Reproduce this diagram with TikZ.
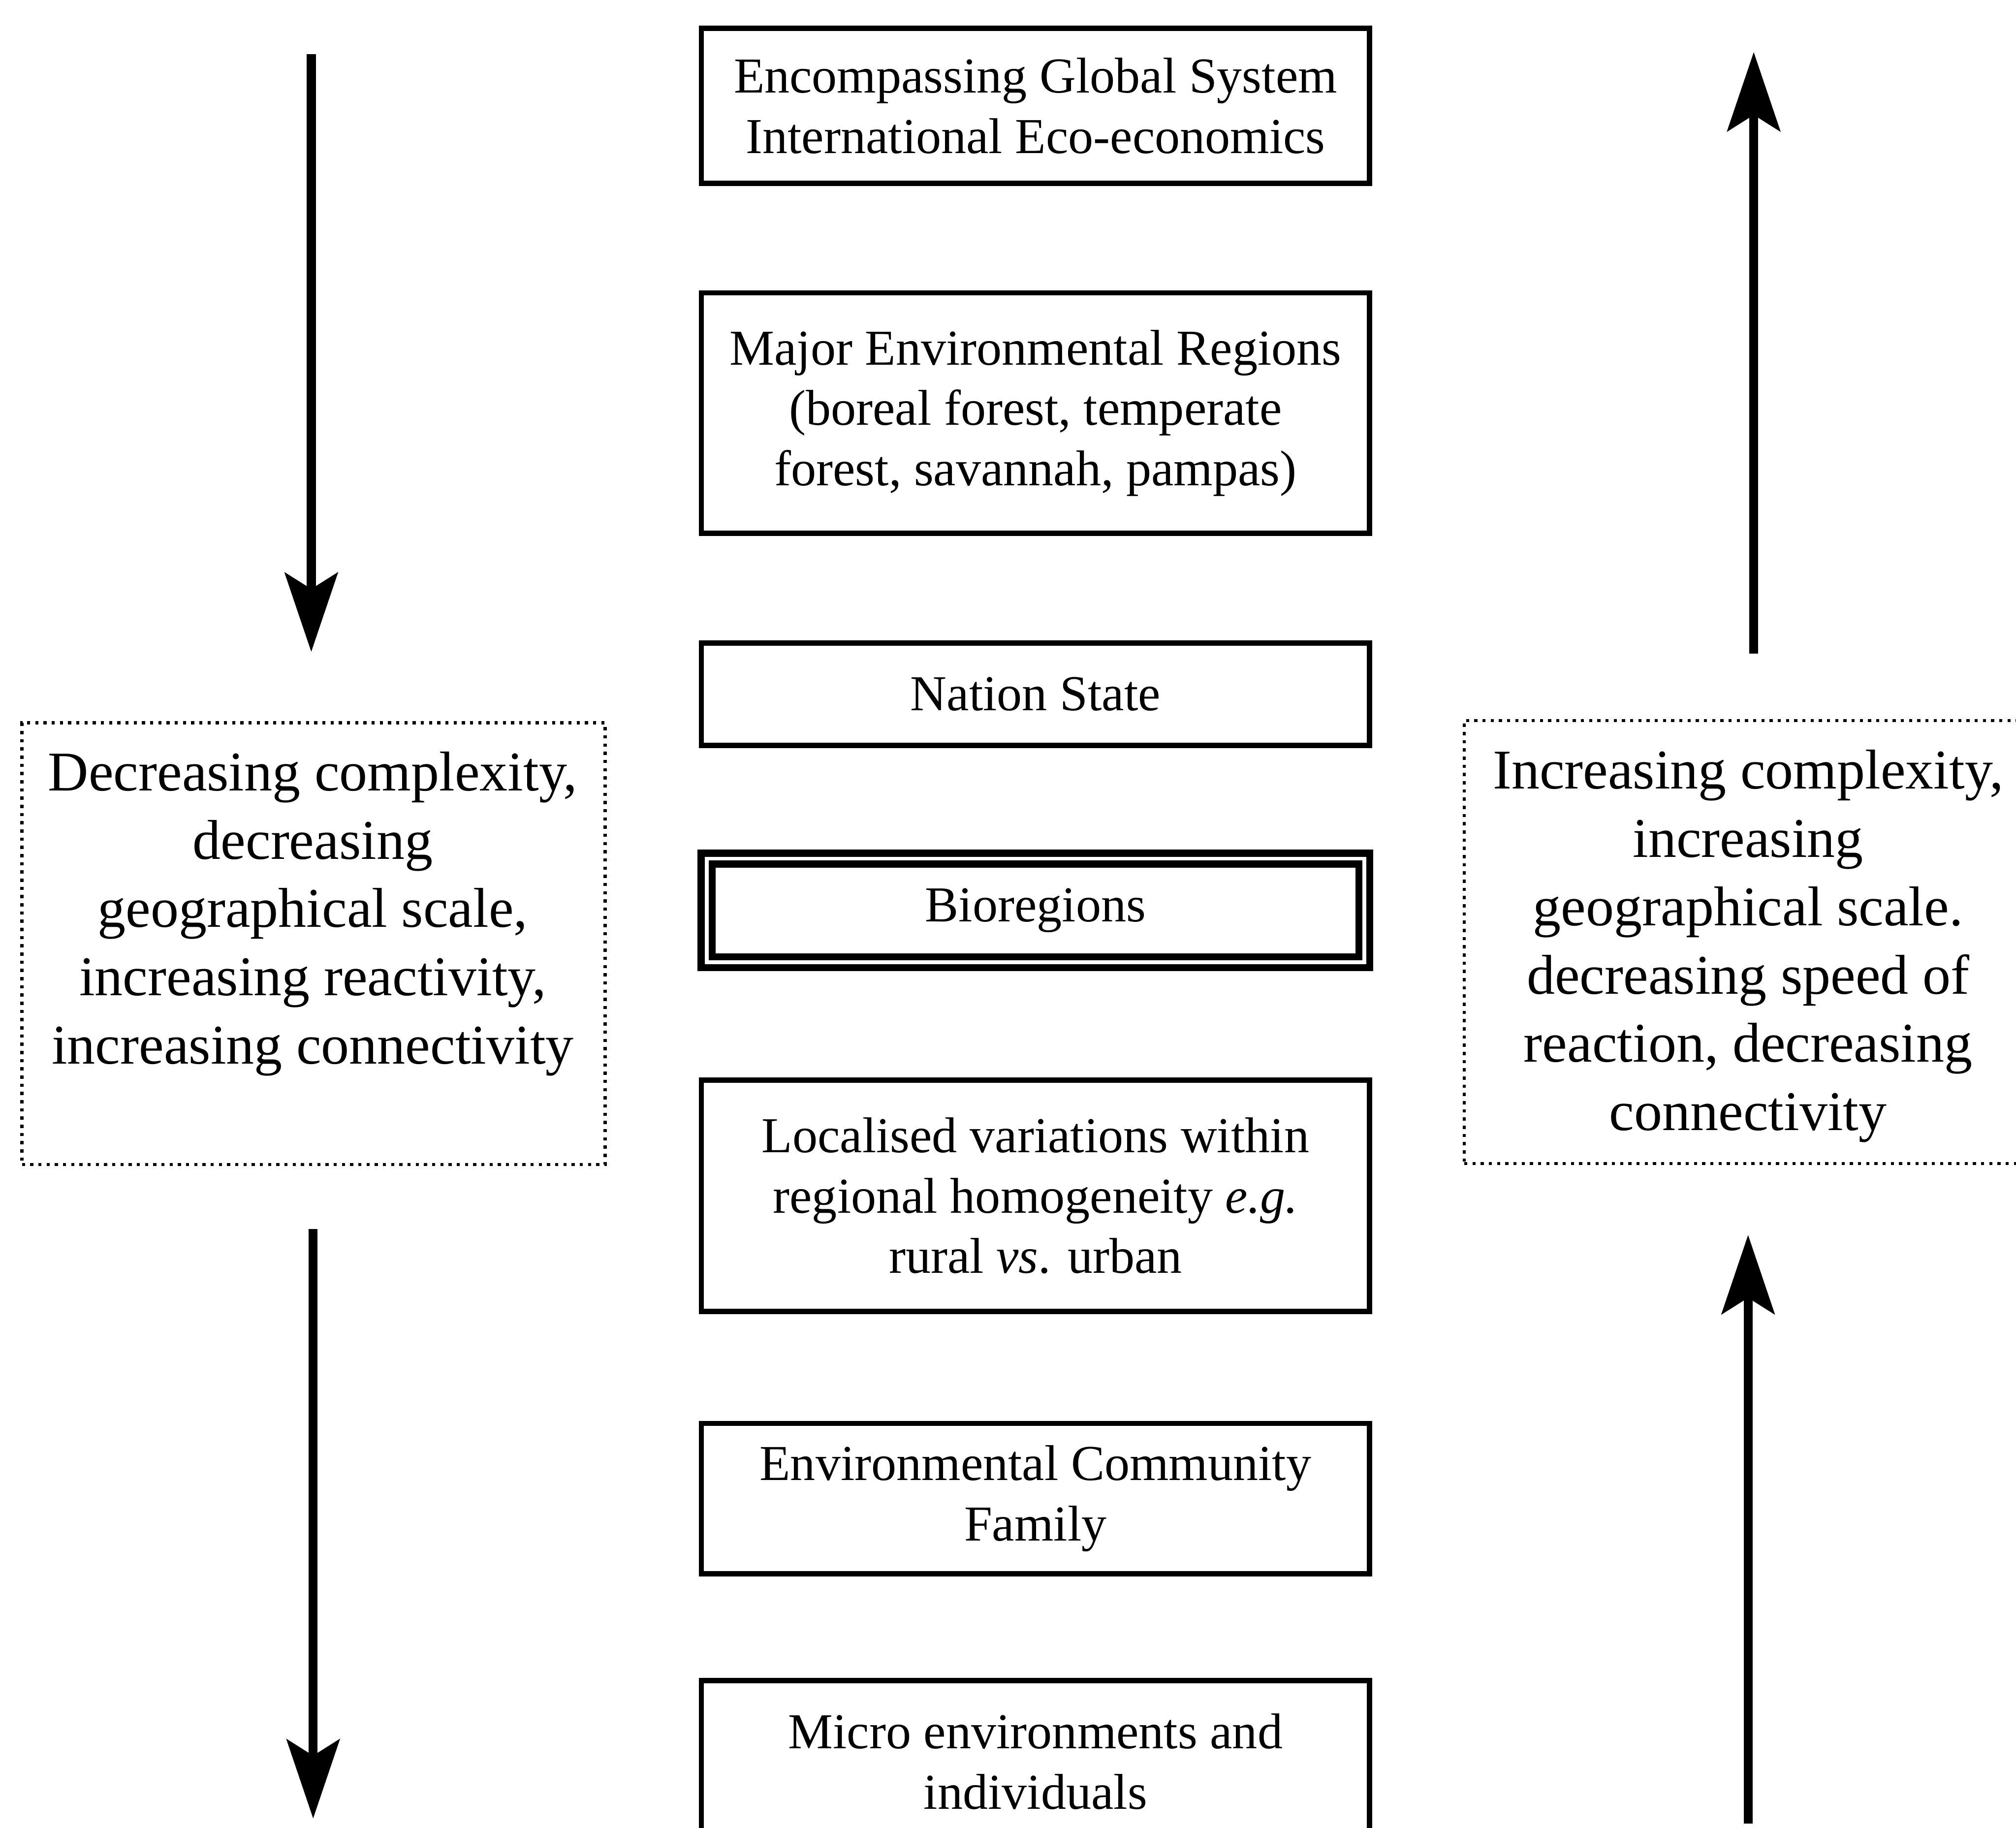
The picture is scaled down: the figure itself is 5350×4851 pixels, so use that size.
\documentclass[tikz,border=0pt]{standalone}
\usepackage{fontspec}
\setmainfont{Liberation Serif}
\usetikzlibrary{arrows.meta}

\begin{document}
\begin{tikzpicture}[x=0.005cm, y=-0.005cm,
  level/.style={draw, line width=2pt, align=center, inner sep=0pt,
    font=\fontsize{19}{22.8}\selectfont, minimum width=8.875cm},
  keylevel/.style={level, double, line width=2.7pt, double distance=1.42pt,
    minimum width=8.735cm},
  note/.style={draw, line width=1.2pt, dash pattern=on 1.2pt off 1.9pt, inner sep=0pt},
  notetext/.style={align=center, inner sep=0pt, font=\fontsize{21.2}{25.8}\selectfont},
  flow/.style={line width=3.4pt, -{Stealth[length=1.05cm, width=0.70cm, inset=0.215cm]}}
]
\useasboundingbox (0,0) rectangle (5350,4851);
\clip (0,0) rectangle (5350,4851);

% scale levels, from global down to individual
\node[level, minimum height=2.06cm] (global) at (2748,281)
  {Encompassing Global System\\International Eco-economics};
\node[level, minimum height=3.19cm] (regions) at (2748,1096)
  {Major Environmental Regions\\(boreal forest, temperate\\forest, savannah, pampas)};
\node[level, minimum height=1.36cm] (nation) at (2748,1842) {Nation State};
\node[keylevel, minimum height=1.378cm] (bio) at (2748,2416) {Bioregions};
\node[level, minimum height=3.07cm] (local) at (2748,3173)
  {Localised variations within\\regional homogeneity \textit{e.g.}\\rural \textit{vs}. urban};
\node[level, minimum height=2.0cm] (community) at (2748,3977)
  {Environmental Community\\Family};
\node[level, minimum height=2.15cm] (micro) at (2748,4675)
  {Micro environments and\\individuals};

% side notes
\node[note, minimum width=7.745cm, minimum height=5.865cm] (downbox) at (832,2504) {};
\node[notetext] (downtext) at (830,2425)
  {Decreasing complexity,\\decreasing\\geographical scale,\\increasing reactivity,\\increasing connectivity};
\node[note, minimum width=7.55cm, minimum height=5.885cm] (upbox) at (4640,2500) {};
\node[notetext] (uptext) at (4639,2511)
  {Increasing complexity,\\increasing\\geographical scale.\\decreasing speed of\\reaction, decreasing\\connectivity};

% direction arrows
\coordinate (downAs) at (826,144);
\coordinate (downAe) at (826,1730);
\coordinate (downBs) at (831,3262);
\coordinate (downBe) at (831,4826);
\coordinate (upAs) at (4654,1735);
\coordinate (upAe) at (4654,138);
\coordinate (upBs) at (4639,4839);
\coordinate (upBe) at (4639,3277);
\draw[flow] (downAs) -- (downAe);
\draw[flow] (downBs) -- (downBe);
\draw[flow] (upAs) -- (upAe);
\draw[flow] (upBs) -- (upBe);
\end{tikzpicture}
\end{document}
